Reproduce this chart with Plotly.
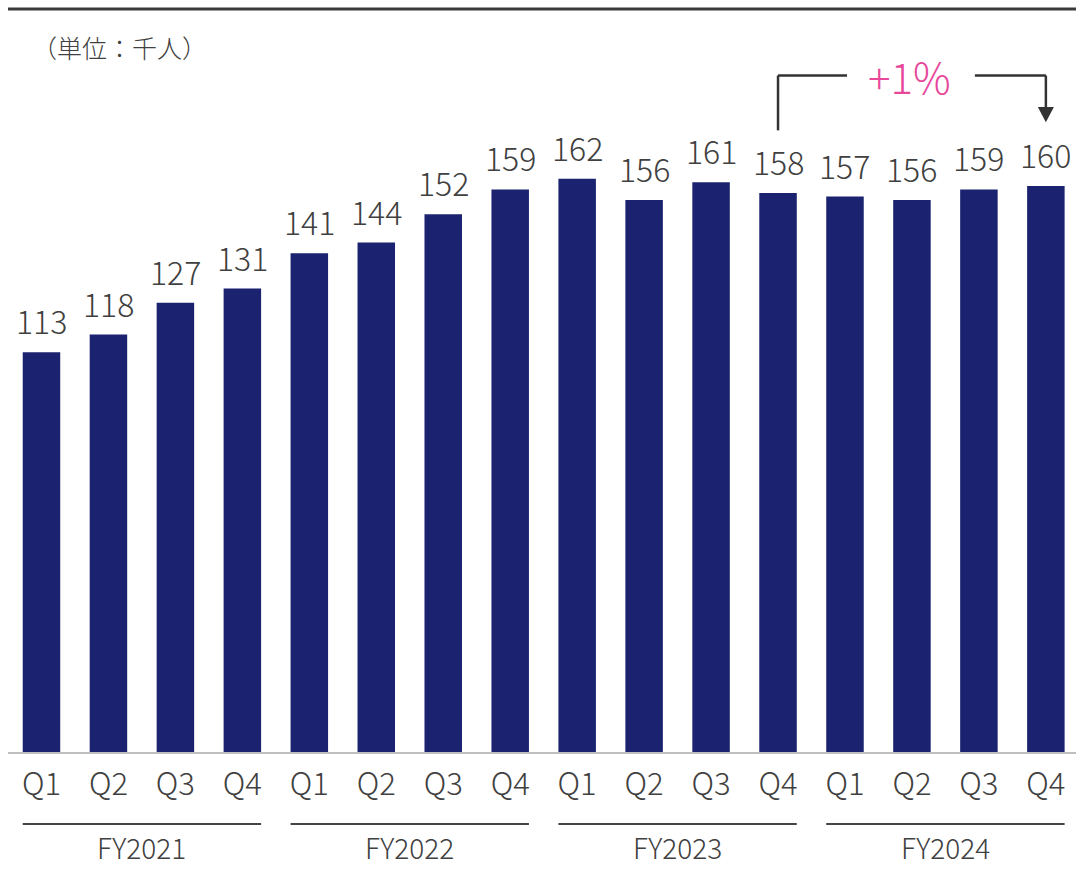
import plotly.graph_objects as go

# data (thousand people)
quarters = ["Q1", "Q2", "Q3", "Q4"] * 4
fiscal_years = ["FY2021", "FY2022", "FY2023", "FY2024"]
values = [113, 118, 127, 131, 141, 144, 152, 159,
          162, 156, 161, 158, 157, 156, 159, 160]
growth_label = "+1%"
unit_label = "（単位：千人）"

BAR_COLOR = "#1b2270"
TEXT_COLOR = "#404040"
FONT = "Noto Sans CJK JP"

x_pos = list(range(len(values)))

fig = go.Figure(
    go.Bar(
        x=x_pos,
        y=values,
        width=0.56,
        marker=dict(color=BAR_COLOR, line=dict(width=0)),
        hoverinfo="x+y",
    )
)

# value labels above bars
for x, v in zip(x_pos, values):
    fig.add_annotation(
        x=x, y=v, text=str(v), showarrow=False,
        yanchor="bottom", yshift=7,
        font=dict(size=32, color=TEXT_COLOR, family=FONT, weight=300),
    )

# fiscal year group lines and labels
shapes = []
for i, fy in enumerate(fiscal_years):
    x0 = i * 4 - 0.28
    x1 = i * 4 + 3 + 0.28
    shapes.append(dict(type="line", xref="x", yref="paper",
                       x0=x0, x1=x1, y0=-0.097, y1=-0.097,
                       line=dict(color="#444444", width=2)))
    fig.add_annotation(
        x=i * 4 + 1.5, y=-0.1575, xref="x", yref="paper", text=fy,
        showarrow=False, yanchor="bottom",
        font=dict(size=28, color=TEXT_COLOR, family=FONT, weight=300),
    )

# top rule
shapes.append(dict(type="line", xref="paper", yref="paper",
                   x0=0, x1=1, y0=1, y1=1,
                   line=dict(color="#3a3a3a", width=3)))

# growth bracket from FY2023 Q4 to FY2024 Q4
i_from, i_to = 11, 15
y_top = 191.2
bracket = dict(color="#333333", width=2.5)
shapes += [
    dict(type="line", x0=i_from, x1=i_from, y0=175.7, y1=y_top, line=bracket),
    dict(type="line", x0=i_from, x1=12.03, y0=y_top, y1=y_top, line=bracket),
    dict(type="line", x0=13.94, x1=i_to, y0=y_top, y1=y_top, line=bracket),
    dict(type="line", x0=i_to, x1=i_to, y0=y_top, y1=182, line=bracket),
    dict(type="path",
         path=f"M {i_to - 0.12} 182.3 L {i_to + 0.12} 182.3 L {i_to} 178 Z",
         fillcolor="#333333", line=dict(width=0)),
]
fig.add_annotation(
    x=12.97, y=y_top, text=growth_label, showarrow=False,
    yanchor="middle", xanchor="center",
    font=dict(size=42, color="#e8489a", family=FONT, weight=300),
)

# unit label
fig.add_annotation(
    x=0.021, y=0.949, xref="paper", yref="paper", text=unit_label,
    showarrow=False, xanchor="left", yanchor="middle",
    font=dict(size=25, color=TEXT_COLOR, family=FONT, weight=300),
)

fig.update_layout(
    width=1076, height=870,
    margin=dict(l=8, r=0, t=9, b=118),
    paper_bgcolor="white", plot_bgcolor="white",
    showlegend=False,
    shapes=shapes,
    font=dict(family=FONT, color=TEXT_COLOR),
    xaxis=dict(
        range=[-0.5, 15.45],
        tickvals=x_pos, ticktext=quarters,
        tickfont=dict(size=31, color=TEXT_COLOR, family=FONT, weight=300),
        showgrid=False, zeroline=False,
        showline=True, linecolor="#bfbfbf", linewidth=2,
        ticks="", ticklabelstandoff=4,
    ),
    yaxis=dict(
        range=[0, 210], visible=False, showgrid=False, zeroline=False,
    ),
)

# drop the default page margin so the figure fills the window
fig.write_html(
    "out.html",
    config={"displayModeBar": False},
    post_script="document.body.style.margin='0';document.body.style.overflow='hidden';",
)
